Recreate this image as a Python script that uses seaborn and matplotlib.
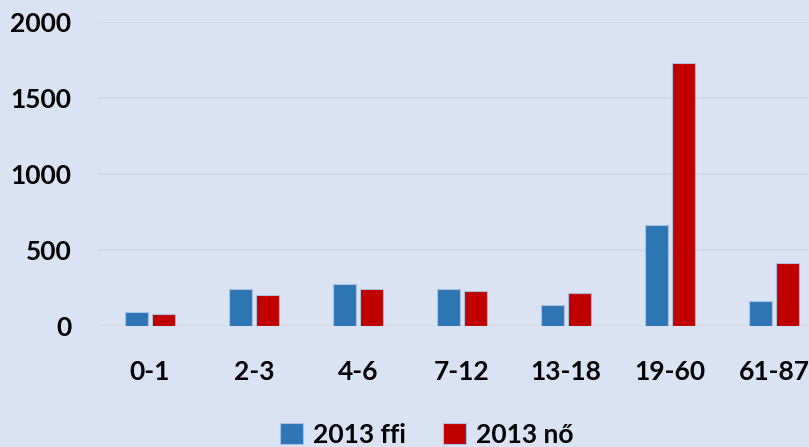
import pandas as pd
import matplotlib.pyplot as plt
import seaborn as sns

# Korcsoportok és értékek (2013)
korcsoportok = ['0-1', '2-3', '4-6', '7-12', '13-18', '19-60', '61-87']
ffi = [90, 240, 277, 240, 134, 660, 160]
no = [79, 205, 240, 231, 215, 1727, 410]
sorozatok = ['2013 ffi', '2013 nő']
szinek = ['#2e75b6', '#c00000']

df = pd.DataFrame({
    'korcsoport': korcsoportok * 2,
    'ertek': ffi + no,
    'sorozat': [sorozatok[0]] * len(ffi) + [sorozatok[1]] * len(no),
})

bg = '#dae3f3'
sns.set_style('white')
plt.rcParams['font.family'] = ['Lato', 'DejaVu Sans']
plt.rcParams['text.color'] = 'black'
plt.rcParams['xtick.color'] = 'black'
plt.rcParams['ytick.color'] = 'black'

fig = plt.figure(figsize=(8.09, 4.47), dpi=100, facecolor=bg)
ax = fig.add_axes([98 / 809, 1 - 325.7 / 447, 728 / 809, (325.7 - 22) / 447])
ax.set_facecolor(bg)

sns.barplot(data=df, x='korcsoport', y='ertek', hue='sorozat',
            palette=szinek, saturation=1, width=0.51, gap=0.13, ax=ax,
            edgecolor='#a9c0e0', linewidth=0.8, zorder=3)

ax.set_xlim(-0.5, len(korcsoportok) - 0.5)
ax.set_ylim(0, 2000)
ax.set_yticks([0, 500, 1000, 1500, 2000])
ax.yaxis.grid(True, color='#d4d8de', linewidth=1.2, zorder=0)
ax.set_axisbelow(True)
sns.despine(ax=ax, left=True, bottom=True)
ax.tick_params(axis='both', length=0, labelsize=19, labelcolor='black')
ax.tick_params(axis='y', pad=19)
ax.tick_params(axis='x', pad=25)
for lab in ax.get_xticklabels() + ax.get_yticklabels():
    lab.set_fontweight('bold')
ax.set_xlabel('')
ax.set_ylabel('')

handles, labels = ax.get_legend_handles_labels()
ax.get_legend().remove()
fig.legend(handles, labels, loc='center', bbox_to_anchor=(427 / 809, 12 / 447),
           ncol=2, frameon=False, handlelength=0.85, handleheight=0.85,
           handletextpad=0.4, columnspacing=1.4,
           prop={'size': 19, 'weight': 'bold'})

fig.savefig('out.png', dpi=100, facecolor=bg)
